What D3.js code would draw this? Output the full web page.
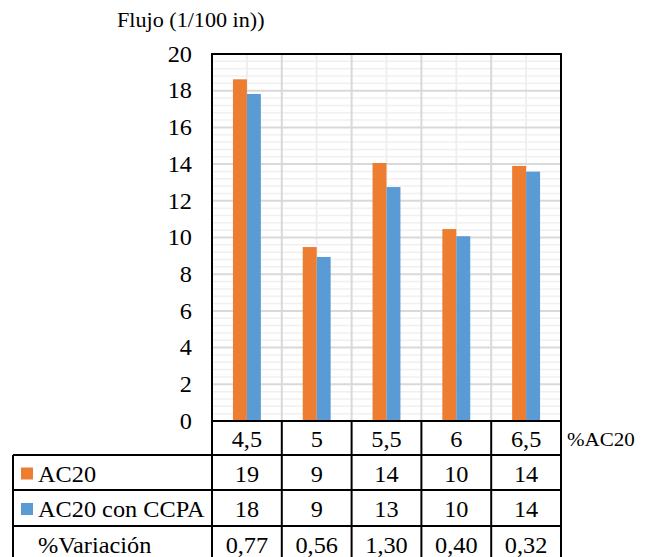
<!DOCTYPE html>
<html>
<head>
<meta charset="utf-8">
<script src="https://cdn.jsdelivr.net/npm/d3@7"></script>
<style>
  html, body { margin: 0; padding: 0; background: #fff; }
  svg { display: block; }
  svg text { fill: #000; }
</style>
</head>
<body>
<svg id="chart" width="652" height="557"></svg>
<script>
// Flujo Marshall por contenido de asfalto
const categories = ["4,5", "5", "5,5", "6", "6,5"];
const seriesNames = ["AC20", "AC20 con CCPA"];
const ac20 = [18.62, 9.48, 14.06, 10.46, 13.90];
const ac20Ccpa = [17.82, 8.94, 12.75, 10.07, 13.59];
const variacion = [0.77, 0.56, 1.30, 0.40, 0.32];
const yTicks = [0, 2, 4, 6, 8, 10, 12, 14, 16, 18, 20];
const colors = ["#ED7D31", "#5B9BD5"];

const seriesValues = [ac20, ac20Ccpa];
const FONT = '"Liberation Serif", "Times New Roman", Times, serif';
const STRETCH = 1.08; // wide serif lettering
const SIZE = 22.5;

const svg = d3.select("#chart");

const plot = { left: 212, right: 561, top: 54, bottom: 421 };
const tableLeft = 13;
const rowEdges = [421, 455, 490, 526, 562];

const x = d3.scaleBand().domain(categories).range([plot.left, plot.right]).paddingInner(0).paddingOuter(0);
const xSub = d3.scaleBand().domain(seriesNames).range([0, x.bandwidth()]).paddingInner(0).paddingOuter(1.5);
const y = d3.scaleLinear().domain([0, 20]).range([plot.bottom, plot.top]);

// stretched text label helper
function label(parent, tx, ty, str, size, anchor) {
  return parent.append("text")
    .attr("transform", `translate(${tx},${ty}) scale(${STRETCH},1)`)
    .attr("font-family", FONT).attr("font-size", size)
    .attr("text-anchor", anchor || "start")
    .attr("dy", "0.4em")
    .text(str);
}

// Grid: minor horizontal lines
const minor = d3.range(0, 20.001, 0.4).filter(v => Math.abs(v / 2 - Math.round(v / 2)) > 1e-6);
svg.append("g").selectAll("line").data(minor).join("line")
  .attr("x1", plot.left).attr("x2", plot.right)
  .attr("y1", d => y(d)).attr("y2", d => y(d))
  .attr("stroke", "#f0f0f0").attr("stroke-width", 1.5);

// Grid: minor vertical lines at category centers
svg.append("g").selectAll("line").data(categories).join("line")
  .attr("x1", d => x(d) + x.bandwidth() / 2).attr("x2", d => x(d) + x.bandwidth() / 2)
  .attr("y1", plot.top).attr("y2", plot.bottom)
  .attr("stroke", "#efefef").attr("stroke-width", 2);

// Grid: major horizontal lines
svg.append("g").selectAll("line").data(yTicks.slice(1, -1)).join("line")
  .attr("x1", plot.left).attr("x2", plot.right)
  .attr("y1", d => y(d)).attr("y2", d => y(d))
  .attr("stroke", "#d9d9d9").attr("stroke-width", 2);

// Grid: major vertical lines at category boundaries
svg.append("g").selectAll("line").data(categories.slice(1)).join("line")
  .attr("x1", d => x(d)).attr("x2", d => x(d))
  .attr("y1", plot.top).attr("y2", plot.bottom)
  .attr("stroke", "#d9d9d9").attr("stroke-width", 2);

// Bars
const barData = [];
categories.forEach((c, i) => seriesNames.forEach((s, j) => barData.push({ c, s, j, v: seriesValues[j][i] })));
svg.append("g").selectAll("rect").data(barData).join("rect")
  .attr("x", d => x(d.c) + xSub(d.s))
  .attr("y", d => y(d.v))
  .attr("width", xSub.bandwidth())
  .attr("height", d => y(0) - y(d.v))
  .attr("fill", d => colors[d.j]);

// Y axis labels
const yAxis = d3.axisLeft(y).tickValues(yTicks).tickSize(0).tickPadding(20).tickFormat(d3.format("d"));
const yg = svg.append("g").attr("transform", `translate(${plot.left},0)`).call(yAxis)
  .attr("font-family", FONT).attr("font-size", SIZE);
yg.select(".domain").remove();
yg.selectAll("text").attr("fill", "#000")
  .attr("x", -20 / STRETCH)
  .attr("transform", `scale(${STRETCH},1)`);

// Axis title
svg.append("text")
  .attr("transform", `translate(117,27) scale(${STRETCH},1)`)
  .attr("font-family", FONT).attr("font-size", 20.5).text("Flujo (1/100 in))");

// Plot frame
svg.append("path")
  .attr("d", `M${plot.left},${plot.bottom}V${plot.top}H${plot.right}V${plot.bottom}`)
  .attr("fill", "none").attr("stroke", "#000").attr("stroke-width", 2);

// Data table
const tbl = svg.append("g");
const fmtInt = d3.format(".0f");
const fmtVar = v => d3.format(".2f")(v).replace(".", ",");
const rows = [
  { label: null, values: categories },
  { label: seriesNames[0], color: colors[0], values: ac20.map(fmtInt) },
  { label: seriesNames[1], color: colors[1], values: ac20Ccpa.map(fmtInt) },
  { label: "%Variación", values: variacion.map(fmtVar) }
];

// horizontal rules
rowEdges.forEach((yy, i) => {
  tbl.append("line")
    .attr("x1", i === 0 ? plot.left : tableLeft).attr("x2", plot.right)
    .attr("y1", yy).attr("y2", yy)
    .attr("stroke", "#000").attr("stroke-width", 2);
});
// vertical rules
const vEdges = categories.map(c => x(c)).concat([plot.right]);
vEdges.forEach(xx => {
  tbl.append("line").attr("x1", xx).attr("x2", xx)
    .attr("y1", rowEdges[0]).attr("y2", rowEdges[rowEdges.length - 1])
    .attr("stroke", "#000").attr("stroke-width", 2);
});
tbl.append("line").attr("x1", tableLeft).attr("x2", tableLeft)
  .attr("y1", rowEdges[1]).attr("y2", rowEdges[rowEdges.length - 1])
  .attr("stroke", "#000").attr("stroke-width", 2);

rows.forEach((r, i) => {
  const cy = (rowEdges[i] + rowEdges[i + 1]) / 2;
  r.values.forEach((v, k) => {
    label(tbl, x(categories[k]) + x.bandwidth() / 2, cy, v, SIZE, "middle");
  });
  if (r.label) {
    if (r.color) {
      tbl.append("rect").attr("x", 21).attr("y", cy - 5).attr("width", 12).attr("height", 12).attr("fill", r.color);
    }
    label(tbl, 38, cy, r.label, SIZE);
  }
});

// Category axis title
label(svg, 567, (rowEdges[0] + rowEdges[1]) / 2, "%AC20", 19.5);
</script>
</body>
</html>
